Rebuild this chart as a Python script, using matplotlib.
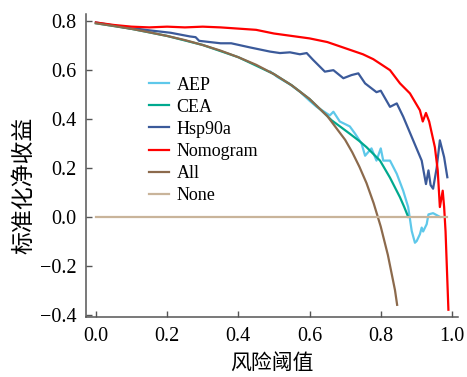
import matplotlib.pyplot as plt

plt.rcParams['font.family'] = ['Liberation Serif', 'Noto Sans CJK SC']

# Nomogram
nomo_x = [0, 0.05, 0.1, 0.15, 0.2, 0.25, 0.3, 0.35, 0.4, 0.45, 0.5, 0.55, 0.6, 0.65, 0.7, 0.75, 0.779,
          0.80, 0.826, 0.854, 0.882, 0.91, 0.918, 0.927, 0.936, 0.952, 0.96, 0.966, 0.974, 0.978,
          0.982, 0.99]
nomo_y = [0.795, 0.785, 0.778, 0.775, 0.778, 0.775, 0.778, 0.775, 0.77, 0.765, 0.75, 0.74, 0.73, 0.715,
          0.69, 0.665, 0.645, 0.625, 0.60, 0.546, 0.505, 0.436, 0.39, 0.425, 0.39, 0.285, 0.19, 0.04,
          0.107, 0.04, -0.06, -0.38]

# Hsp90a
hsp_x = [0, 0.05, 0.1, 0.124, 0.15, 0.21, 0.264, 0.28, 0.29, 0.35, 0.38, 0.433, 0.489, 0.517, 0.545,
         0.573, 0.592, 0.61, 0.643, 0.667, 0.695, 0.718, 0.737, 0.756, 0.788, 0.80, 0.826, 0.845, 0.863,
         0.891, 0.915, 0.927, 0.934, 0.94, 0.947, 0.957, 0.966, 0.978, 0.987]
hsp_y = [0.795, 0.783, 0.77, 0.768, 0.763, 0.753, 0.738, 0.735, 0.72, 0.71, 0.71, 0.693, 0.676, 0.67,
         0.673, 0.665, 0.67, 0.642, 0.594, 0.60, 0.567, 0.58, 0.587, 0.546, 0.51, 0.516, 0.45, 0.464,
         0.41, 0.313, 0.23, 0.134, 0.19, 0.13, 0.115, 0.20, 0.313, 0.244, 0.162]

# All
all_x = [0, 0.05, 0.1, 0.15, 0.2, 0.25, 0.3, 0.35, 0.4, 0.45, 0.5, 0.55, 0.6, 0.65, 0.7, 0.72, 0.74,
         0.76, 0.78, 0.80, 0.82, 0.84, 0.846]
all_y = [0.792, 0.781, 0.769, 0.755, 0.740, 0.723, 0.703, 0.680, 0.653, 0.622, 0.584, 0.538, 0.482,
         0.412, 0.315, 0.264, 0.205, 0.138, 0.056, -0.040, -0.156, -0.300, -0.360]

# CEA
cea_x = [0, 0.1, 0.2, 0.3, 0.4, 0.5, 0.55, 0.6, 0.63, 0.662, 0.69, 0.713, 0.74, 0.76, 0.798, 0.826,
         0.854, 0.866, 0.877]
cea_y = [0.792, 0.769, 0.740, 0.703, 0.653, 0.584, 0.538, 0.482, 0.44, 0.395, 0.365, 0.34, 0.31, 0.285,
         0.23, 0.16, 0.08, 0.04, 0.0]

# AEP
aep_x = [0.49, 0.51, 0.545, 0.573, 0.60, 0.62, 0.657, 0.667, 0.685, 0.713, 0.728, 0.746, 0.756, 0.774,
         0.788, 0.80, 0.807, 0.826, 0.845, 0.863, 0.877, 0.887, 0.896, 0.901, 0.91, 0.915, 0.919,
         0.929, 0.934, 0.947, 0.966]
aep_y = [0.594, 0.572, 0.542, 0.512, 0.475, 0.45, 0.415, 0.43, 0.39, 0.37, 0.34, 0.30, 0.25, 0.28,
         0.23, 0.28, 0.23, 0.23, 0.176, 0.107, 0.04, -0.058, -0.106, -0.099, -0.071, -0.044, -0.06,
         -0.03, 0.01, 0.015, 0.0]

# None
none_x = [0, 0.986]
none_y = [0, 0]

fig = plt.figure(figsize=(4.67, 3.77), dpi=100)
ax = fig.add_axes([0.184, 0.159, 0.796, 0.804])

lw = 1.6
ax.plot(aep_x, aep_y, color='#5ec8ea', lw=lw, label='AEP')
ax.plot(cea_x, cea_y, color='#00a98f', lw=lw, label='CEA')
ax.plot(hsp_x, hsp_y, color='#3b5a9a', lw=lw, label='Hsp90a')
ax.plot(nomo_x, nomo_y, color='#ff0000', lw=lw, label='Nomogram')
ax.plot(all_x, all_y, color='#8c6a4c', lw=lw, label='All')
ax.plot(none_x, none_y, color='#c9b49a', lw=lw, label='None')

ax.set_xlim(-0.028, 1.016)
ax.set_ylim(-0.41, 0.83)
ax.set_xticks([0, 0.2, 0.4, 0.6, 0.8, 1.0])
ax.set_yticks([-0.4, -0.2, 0, 0.2, 0.4, 0.6, 0.8])
ax.set_xticklabels(['0.0', '0.2', '0.4', '0.6', '0.8', '1.0'])
ax.set_yticklabels(['\u22120.4', '\u22120.2', '0.0', '0.2', '0.4', '0.6', '0.8'])

for s in ['top', 'right']:
    ax.spines[s].set_visible(False)
for s in ['left', 'bottom']:
    ax.spines[s].set_color('#555555')
    ax.spines[s].set_linewidth(1.1)
ax.tick_params(direction='in', length=4, width=1, color='#555555', labelsize=14.5, pad=7)

ax.set_xlabel('风险阈值', fontsize=15, family='Noto Sans CJK SC', labelpad=5)
ax.set_ylabel('标准化净收益', fontsize=16.5, family='Noto Sans CJK SC')
ax.yaxis.set_label_coords(-0.135, 0.436)

ax.legend(loc='upper left', bbox_to_anchor=(0.169, 0.793), frameon=False, fontsize=13,
          handlelength=1.1, handletextpad=0.43, labelspacing=0.28, borderaxespad=0, borderpad=0)

fig.savefig('out.png', dpi=100)
